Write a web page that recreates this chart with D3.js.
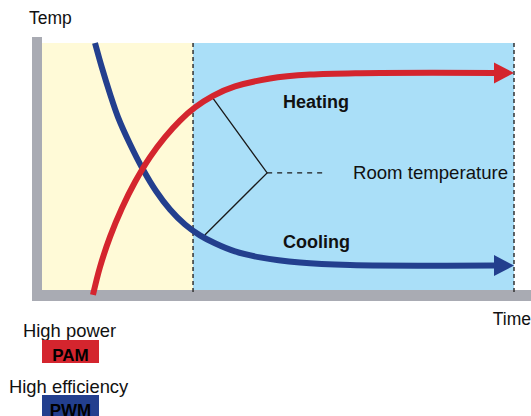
<!DOCTYPE html>
<html>
<head>
<meta charset="utf-8">
<script src="https://cdn.jsdelivr.net/npm/d3@7"></script>
<style>
  body { margin: 0; background: #fff; }
  text { font-family: "Liberation Sans", Arial, sans-serif; }
</style>
</head>
<body>
<div id="chart"></div>
<script>
var width = 531;
var height = 416;

// time / temp in arbitrary units (0..100)
var heatingTime = [10.8, 12.29, 14.41, 16.95, 19.7, 22.88, 26.06, 29.24, 32.42, 36.23, 40.89, 48.31, 56.78, 67.37, 95.97];
var heatingTemp = [-2, 9.3, 21.5, 33.2, 43.7, 53.8, 61.9, 68.6, 73.9, 78.6, 82.4, 85.6, 87.2, 87.8, 87.9];
var coolingTime = [11.23, 12.71, 14.41, 16.1, 18.64, 21.4, 24.15, 27.12, 30.3, 33.47, 36.65, 40.89, 46.19, 54.66, 65.25, 95.97];
var coolingTemp = [100, 89.9, 79.4, 70.0, 59.1, 48.8, 40.1, 32.6, 26.5, 22.1, 18.9, 15.6, 13.2, 11.1, 10.1, 9.9];
var phaseBreaks = [32, 100];
// connector: top end, vertex, bottom end, dashed end
var connTime = [36.2, 47.7, 34.5, 60];
var connTemp = [77.7, 47.4, 22.3, 47.4];

var x = d3.scaleLinear().domain([0, 100]).range([42, 514]);
var y = d3.scaleLinear().domain([0, 100]).range([290, 43]);

var svg = d3.select("#chart")
    .append("svg")
    .attr("width", width)
    .attr("height", height);

// background zones
svg.append("rect")
    .attr("x", x(0)).attr("y", y(100))
    .attr("width", x(phaseBreaks[0]) - x(0))
    .attr("height", y(0) - y(100))
    .attr("fill", "#fffad7");
svg.append("rect")
    .attr("x", x(phaseBreaks[0])).attr("y", y(100))
    .attr("width", x(phaseBreaks[1]) - x(phaseBreaks[0]))
    .attr("height", y(0) - y(100))
    .attr("fill", "#aadff8");

// axes (thick grey bars)
svg.append("rect")
    .attr("x", 32).attr("y", 37)
    .attr("width", 10).attr("height", 264)
    .attr("fill", "#a9abb3");
svg.append("rect")
    .attr("x", 32).attr("y", y(0))
    .attr("width", width - 32).attr("height", 11)
    .attr("fill", "#a9abb3");

// dashed dividers
svg.selectAll(".divider")
    .data(phaseBreaks)
    .enter()
    .append("line")
    .attr("class", "divider")
    .attr("x1", function(d) { return x(d); })
    .attr("x2", function(d) { return x(d); })
    .attr("y1", y(100))
    .attr("y2", 294)
    .attr("stroke", "#333")
    .attr("stroke-width", 1.5)
    .attr("stroke-dasharray", "4,3");

// connector lines to "Room temperature"
svg.append("polyline")
    .attr("points", [0, 1, 2].map(function(i) { return x(connTime[i]) + "," + y(connTemp[i]); }).join(" "))
    .attr("fill", "none")
    .attr("stroke", "#1a1a1a")
    .attr("stroke-width", 1.3);
svg.append("line")
    .attr("x1", x(connTime[1])).attr("y1", y(connTemp[1]))
    .attr("x2", x(connTime[3])).attr("y2", y(connTemp[3]))
    .attr("stroke", "#1a1a1a")
    .attr("stroke-width", 1.3)
    .attr("stroke-dasharray", "5,5");

var line = d3.line()
    .x(function(d) { return x(d[0]); })
    .y(function(d) { return y(d[1]); })
    .curve(d3.curveCatmullRom.alpha(0.5));

function drawCurve(times, temps, color) {
    var pts = d3.zip(times, temps);
    svg.append("path")
        .datum(pts)
        .attr("d", line)
        .attr("fill", "none")
        .attr("stroke", color)
        .attr("stroke-width", 6);
    var last = pts[pts.length - 1];
    var bx = x(last[0]) - 1, by = y(last[1]);
    svg.append("path")
        .attr("d", "M" + bx + "," + (by - 10.5) + "L" + x(100) + "," + by + "L" + bx + "," + (by + 10.5) + "Z")
        .attr("fill", color);
}

drawCurve(coolingTime, coolingTemp, "#233f8e");
drawCurve(heatingTime, heatingTemp, "#d4252e");

// labels
svg.append("text").attr("x", 29).attr("y", 24).attr("font-size", 17.5).attr("fill", "#111").text("Temp");
svg.append("text").attr("x", 531).attr("y", 325).attr("text-anchor", "end").attr("font-size", 17.5).attr("fill", "#111").text("Time");
svg.append("text").attr("x", 283).attr("y", 108).attr("font-size", 18).attr("font-weight", "bold").attr("fill", "#111").text("Heating");
svg.append("text").attr("x", 283).attr("y", 248).attr("font-size", 18).attr("font-weight", "bold").attr("fill", "#111").text("Cooling");
svg.append("text").attr("x", 353).attr("y", 179).attr("font-size", 18.6).attr("fill", "#111").text("Room temperature");

// legend
var legend = [
    { label: "High power", tag: "PAM", color: "#d4252e", lx: 23, ly: 337, by: 340 },
    { label: "High efficiency", tag: "PWM", color: "#233f8e", lx: 9, ly: 393, by: 395 }
];
legend.forEach(function(d) {
    svg.append("text").attr("x", d.lx).attr("y", d.ly).attr("font-size", 18.4).attr("fill", "#111").text(d.label);
    svg.append("rect").attr("x", 42).attr("y", d.by).attr("width", 57).attr("height", 23).attr("fill", d.color);
    svg.append("text").attr("x", 70.5).attr("y", d.by + 21).attr("text-anchor", "middle")
        .attr("font-size", 17).attr("font-weight", "bold").attr("fill", "#000").text(d.tag);
});
</script>
</body>
</html>
